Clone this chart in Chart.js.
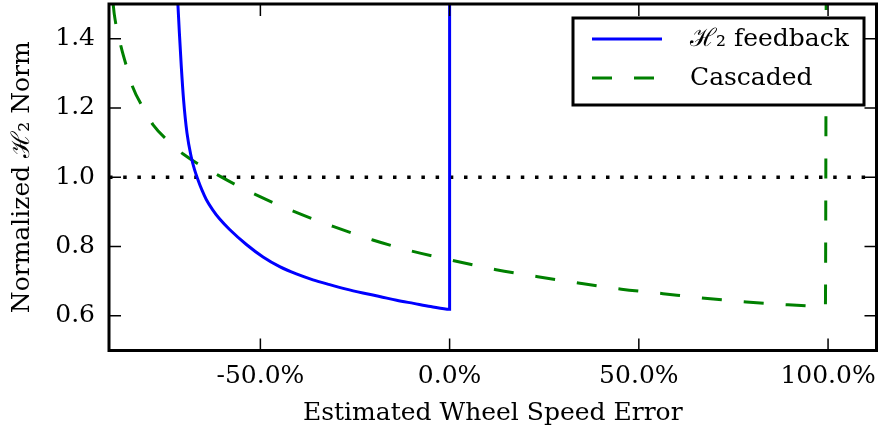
<!DOCTYPE html>
<html>
<head>
<meta charset="utf-8">
<script src="https://cdn.jsdelivr.net/npm/chart.js@4/dist/chart.umd.min.js"></script>
<style>
html,body{margin:0;padding:0;background:#fff;}
canvas{display:block;}
</style>
</head>
<body>
<canvas id="c" width="878" height="434" style="width:878px;height:434px"></canvas>
<script>
// ---- data ----
const xTicks = [-50, 0, 50, 100];
const yTicks = [0.6, 0.8, 1.0, 1.2, 1.4];

const h2X = [-71.8, -71.4, -70.9, -70.3, -69.4, -68.3, -67.4, -66.5, -65.4, -64.3, -62.6, -60.8, -58.2, -53.7, -49.3, -44.9, -40.5, -36.1, -31.7, -27.3, -22.9, -18.5, -14.0, -9.5, -5.0, 0.0, 0.0];
const h2Y = [1.50, 1.416, 1.32, 1.224, 1.128, 1.06, 1.022, 0.993, 0.962, 0.936, 0.906, 0.880, 0.850, 0.806, 0.770, 0.742, 0.721, 0.704, 0.690, 0.677, 0.666, 0.656, 0.645, 0.636, 0.627, 0.619, 1.50];

const cascX = [-88.9, -88.6, -86.8, -85.0, -83.9, -80.2, -78.4, -72.7, -70.4, -61.2, -51.1, -41.0, -30.8, -20.3, -9.7, 0.0, 12.3, 23.3, 34.4, 45.4, 56.4, 67.4, 78.4, 89.4, 99.3, 99.5];
const cascY = [1.50, 1.470, 1.376, 1.306, 1.265, 1.186, 1.152, 1.089, 1.067, 1.006, 0.949, 0.901, 0.858, 0.819, 0.786, 0.762, 0.733, 0.713, 0.694, 0.677, 0.664, 0.651, 0.640, 0.632, 0.627, 1.50];

const refX = [-90, 112.8];
const refY = [1.0, 1.0];

const labels = ['ℋ₂ feedback', 'Cascaded'];

const FONT = {family: '"DejaVu Serif", serif', size: 25};
const pts = (xs, ys) => xs.map((x, i) => ({x: x, y: ys[i]}));

const framePlugin = {
  id: 'frame',
  afterDatasetsDraw(chart) {
    const {ctx, chartArea: a, scales: {x, y}} = chart;
    ctx.save();
    ctx.strokeStyle = '#000';
    ctx.lineWidth = 1.5;
    const tl = 12;
    ctx.beginPath();
    xTicks.forEach(v => {
      const p = x.getPixelForValue(v);
      ctx.moveTo(p, a.bottom); ctx.lineTo(p, a.bottom - tl);
      ctx.moveTo(p, a.top); ctx.lineTo(p, a.top + tl);
    });
    yTicks.forEach(v => {
      const p = y.getPixelForValue(v);
      ctx.moveTo(a.left, p); ctx.lineTo(a.left + tl, p);
      ctx.moveTo(a.right, p); ctx.lineTo(a.right - tl, p);
    });
    ctx.stroke();
    ctx.lineWidth = 3;
    ctx.strokeRect(a.left, a.top, a.right - a.left, a.bottom - a.top);
    ctx.restore();
  }
};

const legendPlugin = {
  id: 'boxLegend',
  afterDraw(chart) {
    const {ctx} = chart;
    const bx = 573, by = 18, bw = 291, bh = 87;
    ctx.save();
    ctx.fillStyle = '#fff';
    ctx.fillRect(bx, by, bw, bh);
    ctx.strokeStyle = '#000';
    ctx.lineWidth = 3;
    ctx.strokeRect(bx, by, bw, bh);
    const rows = [39, 78];
    chart.data.datasets.slice(0, 2).forEach((ds, i) => {
      ctx.beginPath();
      ctx.strokeStyle = ds.borderColor;
      ctx.lineWidth = ds.borderWidth;
      ctx.setLineDash(ds.borderDash || []);
      ctx.moveTo(592, rows[i]);
      ctx.lineTo(662, rows[i]);
      ctx.stroke();
      ctx.setLineDash([]);
      ctx.fillStyle = '#000';
      ctx.font = FONT.size + 'px ' + FONT.family;
      ctx.textBaseline = 'middle';
      ctx.textAlign = 'left';
      ctx.fillText(ds.label, 690, rows[i]);
    });
    ctx.restore();
  }
};

new Chart(document.getElementById('c'), {
  type: 'scatter',
  data: {
    datasets: [
      {label: labels[0], data: pts(h2X, h2Y), showLine: true, borderColor: '#0000ff', borderWidth: 3, pointRadius: 0, cubicInterpolationMode: 'monotone', fill: false},
      {label: labels[1], data: pts(cascX, cascY), showLine: true, borderColor: '#008000', borderWidth: 3, borderDash: [20, 22], pointRadius: 0, cubicInterpolationMode: 'monotone', fill: false},
      {label: 'ref', data: pts(refX, refY), showLine: true, borderColor: '#000', borderWidth: 3.5, borderDash: [3.5, 10.7], borderCapStyle: 'butt', pointRadius: 0, tension: 0, fill: false}
    ]
  },
  options: {
    responsive: false,
    animation: false,
    devicePixelRatio: 1,
    layout: {padding: {left: 0, top: 4, right: 1.5, bottom: 0}},
    plugins: {legend: {display: false}, tooltip: {enabled: false}},
    scales: {
      x: {
        type: 'linear', min: -90, max: 112.8,
        afterBuildTicks: s => { s.ticks = xTicks.map(v => ({value: v})); },
        afterFit: s => { s.height = 83.5; s.paddingLeft = 0; s.paddingRight = 0; },
        grid: {display: false, drawTicks: false},
        border: {display: false},
        ticks: {padding: 11, font: FONT, color: '#000', maxRotation: 0, autoSkip: false, callback: v => Number(v).toFixed(1) + '%'},
        title: {display: true, text: 'Estimated Wheel Speed Error', font: FONT, color: '#000', padding: {top: 0, bottom: 6}}
      },
      y: {
        type: 'linear', min: 0.5, max: 1.5,
        afterBuildTicks: s => { s.ticks = yTicks.map(v => ({value: v})); },
        afterFit: s => { s.width = 109; s.paddingTop = 0; s.paddingBottom = 0; },
        grid: {display: false, drawTicks: false},
        border: {display: false},
        ticks: {padding: 14, font: FONT, color: '#000', autoSkip: false, callback: v => Number(v).toFixed(1)},
        title: {display: true, text: 'Normalized ℋ₂ Norm', font: FONT, color: '#000', padding: {top: 7, bottom: 0}}
      }
    }
  },
  plugins: [framePlugin, legendPlugin]
});
</script>
</body>
</html>
